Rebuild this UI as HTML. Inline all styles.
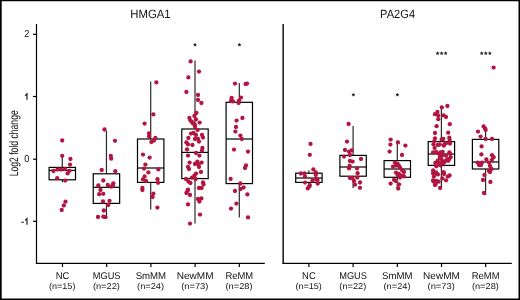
<!DOCTYPE html>
<html><head><meta charset="utf-8"><style>
html,body{margin:0;padding:0;background:#fff;}
svg{display:block;will-change:transform;}
text{font-family:"Liberation Sans",sans-serif;fill:#111;text-rendering:geometricPrecision;}
.t{font-size:12px;}
.yt{font-size:10px;}
.xl{font-size:9.8px;}
.xn{font-size:8.5px;}
.yl{font-size:12.3px;}
.a{stroke:#000;stroke-width:1.2;fill:none;}
.w{stroke:#2a2a2a;stroke-width:1.2;}
.b{stroke:#000;stroke-width:1.2;fill:none;}
.m{stroke:#000;stroke-width:1.2;}
circle{fill:#b31541;}
</style></head><body>
<svg width="520" height="300" viewBox="0 0 520 300">
<rect x="0" y="0" width="520" height="300" fill="#fff"/>
<line x1="36.5" y1="24" x2="36.5" y2="263.9" class="a"/>
<line x1="35.9" y1="263.3" x2="264.8" y2="263.3" class="a"/>
<line x1="33" y1="34.3" x2="36.5" y2="34.3" class="a"/>
<line x1="33" y1="96.5" x2="36.5" y2="96.5" class="a"/>
<line x1="33" y1="159.2" x2="36.5" y2="159.2" class="a"/>
<line x1="33" y1="221.3" x2="36.5" y2="221.3" class="a"/>
<line x1="62.5" y1="263.3" x2="62.5" y2="267" class="a"/>
<line x1="106.7" y1="263.3" x2="106.7" y2="267" class="a"/>
<line x1="150.9" y1="263.3" x2="150.9" y2="267" class="a"/>
<line x1="195.1" y1="263.3" x2="195.1" y2="267" class="a"/>
<line x1="239.3" y1="263.3" x2="239.3" y2="267" class="a"/>
<line x1="283.15" y1="24" x2="283.15" y2="263.9" class="a" style="stroke-width:1.4"/>
<line x1="282.7" y1="263.3" x2="511.8" y2="263.3" class="a"/>
<line x1="308.9" y1="263.3" x2="308.9" y2="267" class="a"/>
<line x1="353.1" y1="263.3" x2="353.1" y2="267" class="a"/>
<line x1="397.3" y1="263.3" x2="397.3" y2="267" class="a"/>
<line x1="441.5" y1="263.3" x2="441.5" y2="267" class="a"/>
<line x1="485.7" y1="263.3" x2="485.7" y2="267" class="a"/>
<line x1="62.30" y1="156.00" x2="62.30" y2="167.40" class="w"/>
<line x1="62.30" y1="179.80" x2="62.30" y2="182.30" class="w"/>
<rect x="49.10" y="167.40" width="26.40" height="12.40" class="b"/>
<line x1="49.10" y1="170.40" x2="75.50" y2="170.40" class="m"/>
<line x1="106.45" y1="130.80" x2="106.45" y2="173.80" class="w"/>
<line x1="106.45" y1="203.40" x2="106.45" y2="217.50" class="w"/>
<rect x="93.25" y="173.80" width="26.40" height="29.60" class="b"/>
<line x1="93.25" y1="187.30" x2="119.65" y2="187.30" class="m"/>
<line x1="150.70" y1="81.60" x2="150.70" y2="139.00" class="w"/>
<line x1="150.70" y1="182.40" x2="150.70" y2="209.40" class="w"/>
<rect x="137.50" y="139.00" width="26.40" height="43.40" class="b"/>
<line x1="137.50" y1="168.00" x2="163.90" y2="168.00" class="m"/>
<line x1="195.00" y1="60.60" x2="195.00" y2="129.00" class="w"/>
<line x1="195.00" y1="178.60" x2="195.00" y2="223.60" class="w"/>
<rect x="181.80" y="129.00" width="26.40" height="49.60" class="b"/>
<line x1="181.80" y1="152.40" x2="208.20" y2="152.40" class="m"/>
<line x1="239.30" y1="83.00" x2="239.30" y2="102.30" class="w"/>
<line x1="239.30" y1="183.60" x2="239.30" y2="217.60" class="w"/>
<rect x="226.10" y="102.30" width="26.40" height="81.30" class="b"/>
<line x1="226.10" y1="139.00" x2="252.50" y2="139.00" class="m"/>
<line x1="308.90" y1="170.20" x2="308.90" y2="173.20" class="w"/>
<line x1="308.90" y1="182.40" x2="308.90" y2="184.20" class="w"/>
<rect x="295.70" y="173.20" width="26.40" height="9.20" class="b"/>
<line x1="295.70" y1="178.00" x2="322.10" y2="178.00" class="m"/>
<line x1="353.10" y1="126.00" x2="353.10" y2="155.40" class="w"/>
<line x1="353.10" y1="176.20" x2="353.10" y2="188.00" class="w"/>
<rect x="339.90" y="155.40" width="26.40" height="20.80" class="b"/>
<line x1="339.90" y1="167.00" x2="366.30" y2="167.00" class="m"/>
<line x1="397.30" y1="140.40" x2="397.30" y2="160.60" class="w"/>
<line x1="397.30" y1="177.30" x2="397.30" y2="189.00" class="w"/>
<rect x="384.10" y="160.60" width="26.40" height="16.70" class="b"/>
<line x1="384.10" y1="169.00" x2="410.50" y2="169.00" class="m"/>
<line x1="441.40" y1="107.40" x2="441.40" y2="141.60" class="w"/>
<line x1="441.40" y1="165.40" x2="441.40" y2="188.00" class="w"/>
<rect x="428.20" y="141.60" width="26.40" height="23.80" class="b"/>
<line x1="428.20" y1="154.00" x2="454.60" y2="154.00" class="m"/>
<line x1="485.60" y1="128.00" x2="485.60" y2="139.40" class="w"/>
<line x1="485.60" y1="169.00" x2="485.60" y2="195.00" class="w"/>
<rect x="472.40" y="139.40" width="26.40" height="29.60" class="b"/>
<line x1="472.40" y1="162.00" x2="498.80" y2="162.00" class="m"/>
<circle cx="62.2" cy="140.5" r="2.15"/>
<circle cx="62.2" cy="155.8" r="2.15"/>
<circle cx="70.4" cy="159" r="2.15"/>
<circle cx="70" cy="164.6" r="2.15"/>
<circle cx="53.4" cy="171" r="2.15"/>
<circle cx="57.5" cy="169.5" r="2.15"/>
<circle cx="61" cy="169.5" r="2.15"/>
<circle cx="65" cy="169.2" r="2.15"/>
<circle cx="69.5" cy="170.8" r="2.15"/>
<circle cx="67.6" cy="173.4" r="2.15"/>
<circle cx="57.2" cy="178.2" r="2.15"/>
<circle cx="65.2" cy="180.6" r="2.15"/>
<circle cx="65.5" cy="201.7" r="2.15"/>
<circle cx="63.8" cy="205.5" r="2.15"/>
<circle cx="61.7" cy="210" r="2.15"/>
<circle cx="104.5" cy="129.5" r="2.15"/>
<circle cx="115" cy="140.8" r="2.15"/>
<circle cx="110.8" cy="155.8" r="2.15"/>
<circle cx="111.2" cy="158.7" r="2.15"/>
<circle cx="101.7" cy="170" r="2.15"/>
<circle cx="115.3" cy="171.2" r="2.15"/>
<circle cx="103.3" cy="180.5" r="2.15"/>
<circle cx="113.3" cy="183.3" r="2.15"/>
<circle cx="107.8" cy="185" r="2.15"/>
<circle cx="98.3" cy="185.5" r="2.15"/>
<circle cx="111.2" cy="186.7" r="2.15"/>
<circle cx="113" cy="185.5" r="2.15"/>
<circle cx="100.5" cy="190" r="2.15"/>
<circle cx="99.2" cy="194.2" r="2.15"/>
<circle cx="103.3" cy="193.8" r="2.15"/>
<circle cx="103" cy="201.5" r="2.15"/>
<circle cx="109.5" cy="200.8" r="2.15"/>
<circle cx="108.3" cy="205" r="2.15"/>
<circle cx="103.8" cy="210.5" r="2.15"/>
<circle cx="98" cy="217" r="2.15"/>
<circle cx="103.3" cy="216.7" r="2.15"/>
<circle cx="105.5" cy="217.2" r="2.15"/>
<circle cx="156.4" cy="82.4" r="2.15"/>
<circle cx="153.4" cy="114.4" r="2.15"/>
<circle cx="144.6" cy="123.6" r="2.15"/>
<circle cx="149" cy="133.4" r="2.15"/>
<circle cx="149" cy="136.6" r="2.15"/>
<circle cx="155.4" cy="138" r="2.15"/>
<circle cx="154" cy="140.6" r="2.15"/>
<circle cx="151.4" cy="142" r="2.15"/>
<circle cx="143" cy="154.6" r="2.15"/>
<circle cx="149.6" cy="157.6" r="2.15"/>
<circle cx="145.4" cy="164.6" r="2.15"/>
<circle cx="144" cy="168.6" r="2.15"/>
<circle cx="158.4" cy="169.4" r="2.15"/>
<circle cx="148.4" cy="172.4" r="2.15"/>
<circle cx="144.6" cy="176.4" r="2.15"/>
<circle cx="143" cy="179.4" r="2.15"/>
<circle cx="146" cy="181" r="2.15"/>
<circle cx="157.5" cy="179.2" r="2.15"/>
<circle cx="158" cy="182.8" r="2.15"/>
<circle cx="142.4" cy="188" r="2.15"/>
<circle cx="142.4" cy="190" r="2.15"/>
<circle cx="153.4" cy="193.6" r="2.15"/>
<circle cx="152.6" cy="197" r="2.15"/>
<circle cx="157.4" cy="207.6" r="2.15"/>
<circle cx="190.6" cy="61.4" r="2.15"/>
<circle cx="199" cy="71.6" r="2.15"/>
<circle cx="188.4" cy="77.4" r="2.15"/>
<circle cx="186.4" cy="92" r="2.15"/>
<circle cx="198" cy="95" r="2.15"/>
<circle cx="198" cy="100" r="2.15"/>
<circle cx="201.4" cy="103" r="2.15"/>
<circle cx="196.4" cy="113" r="2.15"/>
<circle cx="194.4" cy="116" r="2.15"/>
<circle cx="189.4" cy="118" r="2.15"/>
<circle cx="196" cy="119.4" r="2.15"/>
<circle cx="190.4" cy="120.6" r="2.15"/>
<circle cx="192" cy="122" r="2.15"/>
<circle cx="199.6" cy="122.6" r="2.15"/>
<circle cx="193" cy="123.6" r="2.15"/>
<circle cx="195" cy="125" r="2.15"/>
<circle cx="195" cy="126.6" r="2.15"/>
<circle cx="197.6" cy="130" r="2.15"/>
<circle cx="191" cy="133.6" r="2.15"/>
<circle cx="193.6" cy="133" r="2.15"/>
<circle cx="196" cy="135" r="2.15"/>
<circle cx="202" cy="135" r="2.15"/>
<circle cx="188.4" cy="138" r="2.15"/>
<circle cx="195" cy="139" r="2.15"/>
<circle cx="198" cy="139" r="2.15"/>
<circle cx="203" cy="137.6" r="2.15"/>
<circle cx="199" cy="141.6" r="2.15"/>
<circle cx="186.4" cy="142.4" r="2.15"/>
<circle cx="188" cy="144.4" r="2.15"/>
<circle cx="192.4" cy="145" r="2.15"/>
<circle cx="202.4" cy="148" r="2.15"/>
<circle cx="187" cy="149.4" r="2.15"/>
<circle cx="202" cy="150.6" r="2.15"/>
<circle cx="196" cy="153" r="2.15"/>
<circle cx="188" cy="155.6" r="2.15"/>
<circle cx="199.4" cy="155.6" r="2.15"/>
<circle cx="189.6" cy="162.6" r="2.15"/>
<circle cx="197.4" cy="161.6" r="2.15"/>
<circle cx="201.6" cy="162.6" r="2.15"/>
<circle cx="195" cy="164" r="2.15"/>
<circle cx="198.4" cy="164.4" r="2.15"/>
<circle cx="188" cy="167" r="2.15"/>
<circle cx="199" cy="167" r="2.15"/>
<circle cx="189" cy="169" r="2.15"/>
<circle cx="201" cy="172" r="2.15"/>
<circle cx="196" cy="173.6" r="2.15"/>
<circle cx="194.4" cy="175.6" r="2.15"/>
<circle cx="192" cy="177.6" r="2.15"/>
<circle cx="186" cy="179" r="2.15"/>
<circle cx="195.6" cy="179" r="2.15"/>
<circle cx="188.4" cy="181.6" r="2.15"/>
<circle cx="190.4" cy="183" r="2.15"/>
<circle cx="203" cy="182.4" r="2.15"/>
<circle cx="203.6" cy="184.4" r="2.15"/>
<circle cx="199" cy="188" r="2.15"/>
<circle cx="201.6" cy="188" r="2.15"/>
<circle cx="188" cy="189.6" r="2.15"/>
<circle cx="187.6" cy="191" r="2.15"/>
<circle cx="186.4" cy="193" r="2.15"/>
<circle cx="190" cy="195" r="2.15"/>
<circle cx="198" cy="199" r="2.15"/>
<circle cx="201.4" cy="198.4" r="2.15"/>
<circle cx="199.4" cy="201.6" r="2.15"/>
<circle cx="188" cy="204.4" r="2.15"/>
<circle cx="200" cy="214.6" r="2.15"/>
<circle cx="190" cy="223.6" r="2.15"/>
<circle cx="235" cy="83.6" r="2.15"/>
<circle cx="245.6" cy="84" r="2.15"/>
<circle cx="247" cy="83.6" r="2.15"/>
<circle cx="231.6" cy="98" r="2.15"/>
<circle cx="241" cy="97.6" r="2.15"/>
<circle cx="231" cy="101" r="2.15"/>
<circle cx="233" cy="101.4" r="2.15"/>
<circle cx="239" cy="100.6" r="2.15"/>
<circle cx="238.6" cy="103" r="2.15"/>
<circle cx="242.4" cy="118" r="2.15"/>
<circle cx="236.6" cy="120.6" r="2.15"/>
<circle cx="236" cy="127" r="2.15"/>
<circle cx="235.4" cy="131.6" r="2.15"/>
<circle cx="240.4" cy="135.6" r="2.15"/>
<circle cx="241.8" cy="139" r="2.15"/>
<circle cx="234" cy="149.6" r="2.15"/>
<circle cx="248" cy="151.6" r="2.15"/>
<circle cx="246" cy="165.4" r="2.15"/>
<circle cx="245" cy="168" r="2.15"/>
<circle cx="230.6" cy="179" r="2.15"/>
<circle cx="240.4" cy="183.5" r="2.15"/>
<circle cx="243.6" cy="187.5" r="2.15"/>
<circle cx="240.6" cy="189" r="2.15"/>
<circle cx="235" cy="191" r="2.15"/>
<circle cx="247.4" cy="194.4" r="2.15"/>
<circle cx="236.4" cy="203.6" r="2.15"/>
<circle cx="231" cy="208.6" r="2.15"/>
<circle cx="248" cy="217.4" r="2.15"/>
<circle cx="310.5" cy="143.9" r="2.15"/>
<circle cx="309.8" cy="154.8" r="2.15"/>
<circle cx="313.4" cy="169.4" r="2.15"/>
<circle cx="315.8" cy="172.3" r="2.15"/>
<circle cx="300.8" cy="173.5" r="2.15"/>
<circle cx="304.5" cy="173.4" r="2.15"/>
<circle cx="315.8" cy="175" r="2.15"/>
<circle cx="305" cy="176.6" r="2.15"/>
<circle cx="316.2" cy="179.2" r="2.15"/>
<circle cx="312.5" cy="180.5" r="2.15"/>
<circle cx="317.5" cy="180" r="2.15"/>
<circle cx="305" cy="182.6" r="2.15"/>
<circle cx="317.7" cy="183.6" r="2.15"/>
<circle cx="309.8" cy="185.2" r="2.15"/>
<circle cx="309.2" cy="186.6" r="2.15"/>
<circle cx="307.8" cy="188.4" r="2.15"/>
<circle cx="348.6" cy="124" r="2.15"/>
<circle cx="347" cy="141.6" r="2.15"/>
<circle cx="345" cy="150" r="2.15"/>
<circle cx="349" cy="151.6" r="2.15"/>
<circle cx="351.6" cy="150.4" r="2.15"/>
<circle cx="350" cy="155" r="2.15"/>
<circle cx="344" cy="156.6" r="2.15"/>
<circle cx="361" cy="159" r="2.15"/>
<circle cx="350" cy="161" r="2.15"/>
<circle cx="352.6" cy="161.6" r="2.15"/>
<circle cx="349.6" cy="166" r="2.15"/>
<circle cx="349" cy="168.4" r="2.15"/>
<circle cx="357" cy="168.4" r="2.15"/>
<circle cx="357.6" cy="173.2" r="2.15"/>
<circle cx="350" cy="178" r="2.15"/>
<circle cx="357.3" cy="177.6" r="2.15"/>
<circle cx="352.4" cy="178.2" r="2.15"/>
<circle cx="354" cy="181" r="2.15"/>
<circle cx="360" cy="182.5" r="2.15"/>
<circle cx="355" cy="184.7" r="2.15"/>
<circle cx="360" cy="187.8" r="2.15"/>
<circle cx="390.6" cy="139.6" r="2.15"/>
<circle cx="398" cy="142.4" r="2.15"/>
<circle cx="390.4" cy="144.6" r="2.15"/>
<circle cx="405.4" cy="145.6" r="2.15"/>
<circle cx="389.6" cy="151.6" r="2.15"/>
<circle cx="402" cy="155" r="2.15"/>
<circle cx="395" cy="162.4" r="2.15"/>
<circle cx="397.6" cy="164" r="2.15"/>
<circle cx="393" cy="166.6" r="2.15"/>
<circle cx="396" cy="165.6" r="2.15"/>
<circle cx="399" cy="166" r="2.15"/>
<circle cx="400" cy="167.6" r="2.15"/>
<circle cx="402" cy="170" r="2.15"/>
<circle cx="396" cy="172.6" r="2.15"/>
<circle cx="404" cy="172" r="2.15"/>
<circle cx="399" cy="174" r="2.15"/>
<circle cx="402" cy="175.6" r="2.15"/>
<circle cx="397.6" cy="175" r="2.15"/>
<circle cx="404" cy="176.4" r="2.15"/>
<circle cx="400" cy="177.6" r="2.15"/>
<circle cx="394" cy="179.8" r="2.15"/>
<circle cx="395.6" cy="181" r="2.15"/>
<circle cx="390.6" cy="183.6" r="2.15"/>
<circle cx="399" cy="184.5" r="2.15"/>
<circle cx="398.2" cy="188.5" r="2.15"/>
<circle cx="441.8" cy="107.4" r="2.15"/>
<circle cx="447.4" cy="106" r="2.15"/>
<circle cx="437.4" cy="112" r="2.15"/>
<circle cx="435" cy="114.2" r="2.15"/>
<circle cx="438.2" cy="115.6" r="2.15"/>
<circle cx="443.6" cy="115.4" r="2.15"/>
<circle cx="446" cy="117" r="2.15"/>
<circle cx="438.2" cy="119.2" r="2.15"/>
<circle cx="449.8" cy="124.2" r="2.15"/>
<circle cx="436.6" cy="126.2" r="2.15"/>
<circle cx="435" cy="133" r="2.15"/>
<circle cx="448.2" cy="132.7" r="2.15"/>
<circle cx="435" cy="138.4" r="2.15"/>
<circle cx="441.6" cy="139.5" r="2.15"/>
<circle cx="443.4" cy="138.8" r="2.15"/>
<circle cx="449.3" cy="137.7" r="2.15"/>
<circle cx="449.6" cy="139.9" r="2.15"/>
<circle cx="434.2" cy="141.3" r="2.15"/>
<circle cx="433.5" cy="144.3" r="2.15"/>
<circle cx="437.9" cy="145" r="2.15"/>
<circle cx="439.7" cy="144.6" r="2.15"/>
<circle cx="444.5" cy="144.3" r="2.15"/>
<circle cx="446" cy="143.2" r="2.15"/>
<circle cx="450" cy="143.5" r="2.15"/>
<circle cx="443.8" cy="145.7" r="2.15"/>
<circle cx="434.6" cy="147.9" r="2.15"/>
<circle cx="433.1" cy="152.3" r="2.15"/>
<circle cx="436.1" cy="152" r="2.15"/>
<circle cx="440.3" cy="152.3" r="2.15"/>
<circle cx="442.7" cy="151.8" r="2.15"/>
<circle cx="449.3" cy="152.5" r="2.15"/>
<circle cx="450" cy="153.8" r="2.15"/>
<circle cx="439" cy="153.8" r="2.15"/>
<circle cx="440.8" cy="154.9" r="2.15"/>
<circle cx="440.1" cy="156" r="2.15"/>
<circle cx="442.3" cy="155.3" r="2.15"/>
<circle cx="446" cy="155.7" r="2.15"/>
<circle cx="450.7" cy="157.1" r="2.15"/>
<circle cx="449.3" cy="159" r="2.15"/>
<circle cx="447.1" cy="159.3" r="2.15"/>
<circle cx="441.2" cy="159" r="2.15"/>
<circle cx="439.7" cy="157.9" r="2.15"/>
<circle cx="437.5" cy="160.8" r="2.15"/>
<circle cx="442.7" cy="161.2" r="2.15"/>
<circle cx="444.9" cy="161.5" r="2.15"/>
<circle cx="448.2" cy="160.8" r="2.15"/>
<circle cx="435.3" cy="163" r="2.15"/>
<circle cx="439" cy="163" r="2.15"/>
<circle cx="441.2" cy="164.1" r="2.15"/>
<circle cx="443.4" cy="163" r="2.15"/>
<circle cx="436.4" cy="166.3" r="2.15"/>
<circle cx="440.8" cy="165.6" r="2.15"/>
<circle cx="433.1" cy="170.5" r="2.15"/>
<circle cx="436.1" cy="172.5" r="2.15"/>
<circle cx="443.4" cy="172.2" r="2.15"/>
<circle cx="433.1" cy="173.3" r="2.15"/>
<circle cx="436.4" cy="173.7" r="2.15"/>
<circle cx="437.9" cy="174.4" r="2.15"/>
<circle cx="443.8" cy="172.9" r="2.15"/>
<circle cx="444.1" cy="174" r="2.15"/>
<circle cx="449.6" cy="175.5" r="2.15"/>
<circle cx="447.8" cy="176.6" r="2.15"/>
<circle cx="433.9" cy="176.6" r="2.15"/>
<circle cx="442.3" cy="178.4" r="2.15"/>
<circle cx="446" cy="180.3" r="2.15"/>
<circle cx="433.1" cy="180.3" r="2.15"/>
<circle cx="433.5" cy="181.4" r="2.15"/>
<circle cx="436.4" cy="181" r="2.15"/>
<circle cx="438.6" cy="181.7" r="2.15"/>
<circle cx="435" cy="185" r="2.15"/>
<circle cx="435.7" cy="183.9" r="2.15"/>
<circle cx="440.1" cy="188" r="2.15"/>
<circle cx="493.6" cy="67.6" r="2.15"/>
<circle cx="483.6" cy="126.4" r="2.15"/>
<circle cx="485" cy="128.4" r="2.15"/>
<circle cx="485.6" cy="130" r="2.15"/>
<circle cx="478" cy="131.6" r="2.15"/>
<circle cx="480.6" cy="136.6" r="2.15"/>
<circle cx="485.6" cy="139" r="2.15"/>
<circle cx="492" cy="139" r="2.15"/>
<circle cx="481.6" cy="146.4" r="2.15"/>
<circle cx="481.4" cy="154.4" r="2.15"/>
<circle cx="492" cy="155.2" r="2.15"/>
<circle cx="493.6" cy="157.2" r="2.15"/>
<circle cx="486.4" cy="159.4" r="2.15"/>
<circle cx="492" cy="159.8" r="2.15"/>
<circle cx="477.6" cy="162.6" r="2.15"/>
<circle cx="482" cy="162.6" r="2.15"/>
<circle cx="489" cy="162.6" r="2.15"/>
<circle cx="479" cy="165" r="2.15"/>
<circle cx="481" cy="165" r="2.15"/>
<circle cx="490" cy="166" r="2.15"/>
<circle cx="491.6" cy="169" r="2.15"/>
<circle cx="489" cy="171" r="2.15"/>
<circle cx="490" cy="172" r="2.15"/>
<circle cx="484.4" cy="175" r="2.15"/>
<circle cx="483" cy="180" r="2.15"/>
<circle cx="490.4" cy="182" r="2.15"/>
<circle cx="484" cy="193" r="2.15"/>
<polygon points="195.00,42.70 195.62,43.95 197.00,44.15 196.00,45.12 196.23,46.50 195.00,45.85 193.77,46.50 194.00,45.12 193.00,44.15 194.38,43.95" fill="#222"/>
<polygon points="239.40,42.70 240.02,43.95 241.40,44.15 240.40,45.12 240.63,46.50 239.40,45.85 238.17,46.50 238.40,45.12 237.40,44.15 238.78,43.95" fill="#222"/>
<polygon points="353.40,92.70 354.02,93.95 355.40,94.15 354.40,95.12 354.63,96.50 353.40,95.85 352.17,96.50 352.40,95.12 351.40,94.15 352.78,93.95" fill="#222"/>
<polygon points="397.40,92.70 398.02,93.95 399.40,94.15 398.40,95.12 398.63,96.50 397.40,95.85 396.17,96.50 396.40,95.12 395.40,94.15 396.78,93.95" fill="#222"/>
<polygon points="437.55,51.20 438.17,52.45 439.55,52.65 438.55,53.62 438.78,55.00 437.55,54.35 436.32,55.00 436.55,53.62 435.55,52.65 436.93,52.45" fill="#222"/>
<polygon points="441.60,51.20 442.22,52.45 443.60,52.65 442.60,53.62 442.83,55.00 441.60,54.35 440.37,55.00 440.60,53.62 439.60,52.65 440.98,52.45" fill="#222"/>
<polygon points="445.65,51.20 446.27,52.45 447.65,52.65 446.65,53.62 446.88,55.00 445.65,54.35 444.42,55.00 444.65,53.62 443.65,52.65 445.03,52.45" fill="#222"/>
<polygon points="481.75,51.20 482.37,52.45 483.75,52.65 482.75,53.62 482.98,55.00 481.75,54.35 480.52,55.00 480.75,53.62 479.75,52.65 481.13,52.45" fill="#222"/>
<polygon points="485.80,51.20 486.42,52.45 487.80,52.65 486.80,53.62 487.03,55.00 485.80,54.35 484.57,55.00 484.80,53.62 483.80,52.65 485.18,52.45" fill="#222"/>
<polygon points="489.85,51.20 490.47,52.45 491.85,52.65 490.85,53.62 491.08,55.00 489.85,54.35 488.62,55.00 488.85,53.62 487.85,52.65 489.23,52.45" fill="#222"/>
<text transform="translate(150.5,17.6) scale(0.944,1)" class="t" text-anchor="middle">HMGA1</text>
<text transform="translate(397.6,17.6) scale(0.925,1)" class="t" text-anchor="middle">PA2G4</text>
<path d="M25.1,95.6 L26.95,93.9 V99.8" fill="none" stroke="#111" stroke-width="1.15"/>
<path d="M25.1,220.3 L26.95,218.6 V224.7" fill="none" stroke="#111" stroke-width="1.15"/>
<rect x="21.3" y="221.75" width="2.5" height="1.05" fill="#111"/>
<text transform="translate(29.25,37.2) scale(0.92,1)" class="yt" text-anchor="end">2</text>
<text transform="translate(29.25,162.1) scale(0.92,1)" class="yt" text-anchor="end">0</text>
<text x="62.5" y="278.6" textLength="13.6" lengthAdjust="spacingAndGlyphs" class="xl" text-anchor="middle">NC</text>
<text x="62.2" y="288.6" textLength="26.4" lengthAdjust="spacingAndGlyphs" class="xn" text-anchor="middle">(n=15)</text>
<text x="106.7" y="278.6" textLength="27.7" lengthAdjust="spacingAndGlyphs" class="xl" text-anchor="middle">MGUS</text>
<text x="106.4" y="288.6" textLength="27.0" lengthAdjust="spacingAndGlyphs" class="xn" text-anchor="middle">(n=22)</text>
<text x="150.9" y="278.6" textLength="30.5" lengthAdjust="spacingAndGlyphs" class="xl" text-anchor="middle">SmMM</text>
<text x="150.6" y="288.6" textLength="27.0" lengthAdjust="spacingAndGlyphs" class="xn" text-anchor="middle">(n=24)</text>
<text x="195.1" y="278.6" textLength="36.8" lengthAdjust="spacingAndGlyphs" class="xl" text-anchor="middle">NewMM</text>
<text x="194.8" y="288.6" textLength="27.3" lengthAdjust="spacingAndGlyphs" class="xn" text-anchor="middle">(n=73)</text>
<text x="239.3" y="278.6" textLength="27.8" lengthAdjust="spacingAndGlyphs" class="xl" text-anchor="middle">ReMM</text>
<text x="239.0" y="288.6" textLength="27.0" lengthAdjust="spacingAndGlyphs" class="xn" text-anchor="middle">(n=28)</text>
<text x="308.9" y="278.6" textLength="13.6" lengthAdjust="spacingAndGlyphs" class="xl" text-anchor="middle">NC</text>
<text x="308.6" y="288.6" textLength="26.4" lengthAdjust="spacingAndGlyphs" class="xn" text-anchor="middle">(n=15)</text>
<text x="353.1" y="278.6" textLength="27.7" lengthAdjust="spacingAndGlyphs" class="xl" text-anchor="middle">MGUS</text>
<text x="352.8" y="288.6" textLength="27.0" lengthAdjust="spacingAndGlyphs" class="xn" text-anchor="middle">(n=22)</text>
<text x="397.3" y="278.6" textLength="30.5" lengthAdjust="spacingAndGlyphs" class="xl" text-anchor="middle">SmMM</text>
<text x="397.0" y="288.6" textLength="27.0" lengthAdjust="spacingAndGlyphs" class="xn" text-anchor="middle">(n=24)</text>
<text x="441.5" y="278.6" textLength="36.8" lengthAdjust="spacingAndGlyphs" class="xl" text-anchor="middle">NewMM</text>
<text x="441.2" y="288.6" textLength="27.3" lengthAdjust="spacingAndGlyphs" class="xn" text-anchor="middle">(n=73)</text>
<text x="485.7" y="278.6" textLength="27.8" lengthAdjust="spacingAndGlyphs" class="xl" text-anchor="middle">ReMM</text>
<text x="485.4" y="288.6" textLength="27.0" lengthAdjust="spacingAndGlyphs" class="xn" text-anchor="middle">(n=28)</text>
<text transform="translate(18.1,143.3) rotate(-90) scale(0.70,1)" class="yl" text-anchor="middle">Log2 fold change</text>
<path d="M0,0H520V300H0Z M1.7,1.3V298.6H518.5V1.3Z" fill="#000" fill-rule="evenodd"/>
</svg>
</body></html>
